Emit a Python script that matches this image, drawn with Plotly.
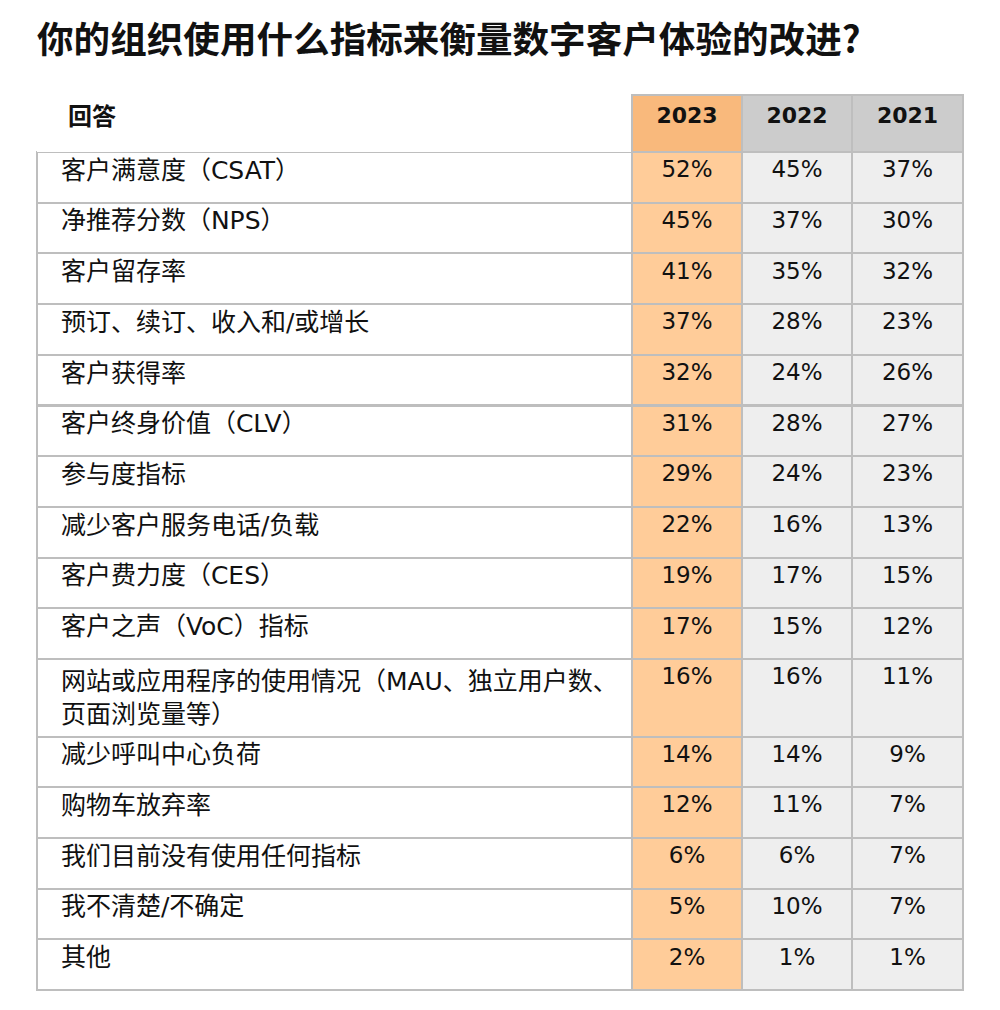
import plotly.graph_objects as go

title = "你的组织使用什么指标来衡量数字客户体验的改进?"
header_label = "回答"
years = ["2023", "2022", "2021"]
categories = [
    "客户满意度（CSAT）",
    "净推荐分数（NPS）",
    "客户留存率",
    "预订、续订、收入和/或增长",
    "客户获得率",
    "客户终身价值（CLV）",
    "参与度指标",
    "减少客户服务电话/负载",
    "客户费力度（CES）",
    "客户之声（VoC）指标",
    "网站或应用程序的使用情况（MAU、独立用户数、<br>页面浏览量等）",
    "减少呼叫中心负荷",
    "购物车放弃率",
    "我们目前没有使用任何指标",
    "我不清楚/不确定",
    "其他",
]
v2023 = [52, 45, 41, 37, 32, 31, 29, 22, 19, 17, 16, 14, 12, 6, 5, 2]
v2022 = [45, 37, 35, 28, 24, 28, 24, 16, 17, 15, 16, 14, 11, 6, 10, 1]
v2021 = [37, 30, 32, 23, 26, 27, 23, 13, 15, 12, 11, 9, 7, 7, 7, 1]

FONT = "DejaVu Sans, Noto Sans CJK SC, sans-serif"
LINE = "#BEBEBE"
pad = "\u00a0\u00a0"

n = len(categories)


def fmt(vals):
    return [f"{v}%" for v in vals]


labels = [pad + c.replace("<br>", "<br>" + pad) for c in categories]

fig = go.Figure(
    go.Table(
        columnwidth=[595, 110, 110, 111],
        header=dict(
            values=[f"{pad}\u00a0<b>{header_label}</b>"] + [f"<b>{y}</b>" for y in years],
            fill_color=["white", "#F9B97C", "#CCCCCC", "#CCCCCC"],
            line=dict(color=["white", LINE, LINE, LINE], width=[0, 2, 2, 2]),
            align=["left", "center", "center", "center"],
            font=dict(family=FONT, size=[24, 22, 22, 22], color="#111111"),
            height=57,
        ),
        cells=dict(
            values=[labels, fmt(v2023), fmt(v2022), fmt(v2021)],
            fill_color=[["white"] * n, ["#FFCC99"] * n, ["#EEEEEE"] * n, ["#EEEEEE"] * n],
            line=dict(color=LINE, width=2),
            align=["left", "center", "center", "center"],
            font=dict(family=FONT, size=[25, 23, 23, 23], color="#111111"),
            height=50.7,
        ),
        domain=dict(x=[29 / 992, 955 / 992], y=[0.0, 1 - 87 / 1002]),
    )
)

fig.update_layout(
    width=992,
    height=1002,
    margin=dict(l=0, r=0, t=0, b=0),
    paper_bgcolor="white",
    title=dict(
        text=f"<b>{title}</b>",
        x=29 / 992,
        xanchor="left",
        y=1 - 32 / 1002,
        yanchor="middle",
        font=dict(family="Noto Sans CJK SC, sans-serif", size=36.6, color="#111111"),
    ),
)

fig.write_html("out.html")
